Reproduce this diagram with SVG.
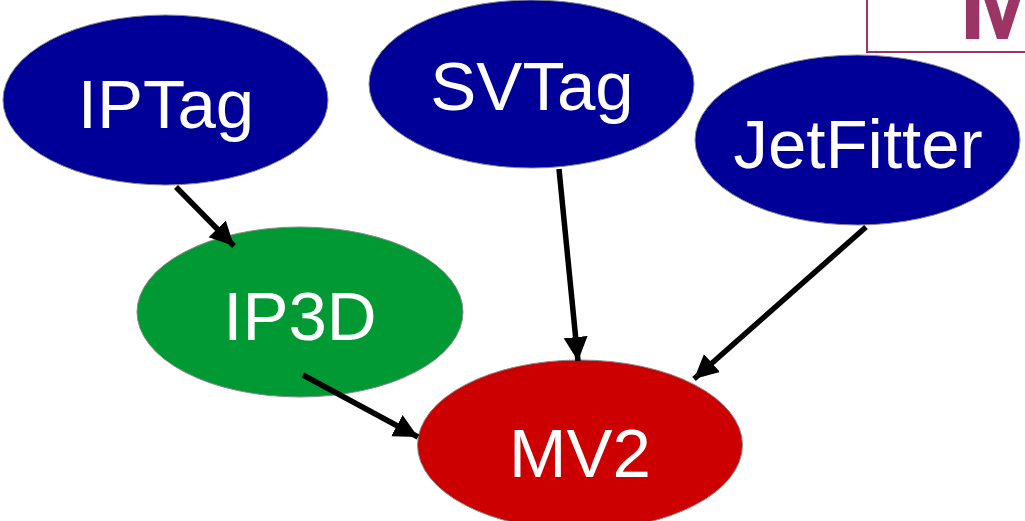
<svg xmlns="http://www.w3.org/2000/svg" width="1025" height="521" viewBox="0 0 1025 521">
  <defs>
    <style>
      .node { stroke: #8a8a8a; stroke-width: 1; }
      .blue { fill: #000099; }
      .green { fill: #009933; }
      .red { fill: #cc0000; }
      .label { font-family: "Liberation Sans", Arial, sans-serif; font-size: 69px; fill: #ffffff; text-anchor: middle; }
      .edge { stroke: #000000; stroke-width: 5.5; fill: none; marker-end: url(#arrow); }
    </style>
    <marker id="arrow" markerUnits="userSpaceOnUse" markerWidth="26" markerHeight="26" refX="24" refY="12" orient="auto">
      <path d="M0,0 L24,12 L0,24 Z" fill="#000000"/>
    </marker>
  </defs>

  <rect width="1025" height="521" fill="#ffffff"/>

  <!-- title box in the corner -->
  <g id="title-box">
    <rect x="867" y="-10" width="170" height="62" fill="#ffffff" stroke="#9b3565" stroke-width="2"/>
    <text x="959" y="39" font-family="Liberation Sans, Arial, sans-serif" font-weight="bold" font-size="104" fill="#9b3565">M</text>
  </g>

  <g id="IPTag">
    <ellipse class="node blue" cx="165.5" cy="100" rx="162.5" ry="85"/>
    <text class="label" x="166" y="128">IPTag</text>
  </g>

  <g id="SVTag">
    <ellipse class="node blue" cx="531.5" cy="84" rx="162.5" ry="84"/>
    <text class="label" x="532" y="110">SVTag</text>
  </g>

  <g id="JetFitter">
    <ellipse class="node blue" cx="857.5" cy="140" rx="162.5" ry="85"/>
    <text class="label" x="858" y="168">JetFitter</text>
  </g>

  <g id="IP3D">
    <ellipse class="node green" cx="300" cy="312" rx="163" ry="85"/>
    <text class="label" x="300" y="340">IP3D</text>
  </g>

  <g id="MV2">
    <ellipse class="node red" cx="580" cy="445" rx="162.5" ry="85"/>
    <text class="label" x="580" y="477">MV2</text>
  </g>

  <!-- connectors drawn above the nodes -->
  <g id="connectors">
    <line class="edge" x1="176" y1="187" x2="234" y2="246"/>
    <line class="edge" x1="559" y1="169" x2="578" y2="361"/>
    <line class="edge" x1="866" y1="227" x2="694" y2="379"/>
    <line class="edge" x1="303" y1="375" x2="418" y2="437"/>
  </g>
</svg>
